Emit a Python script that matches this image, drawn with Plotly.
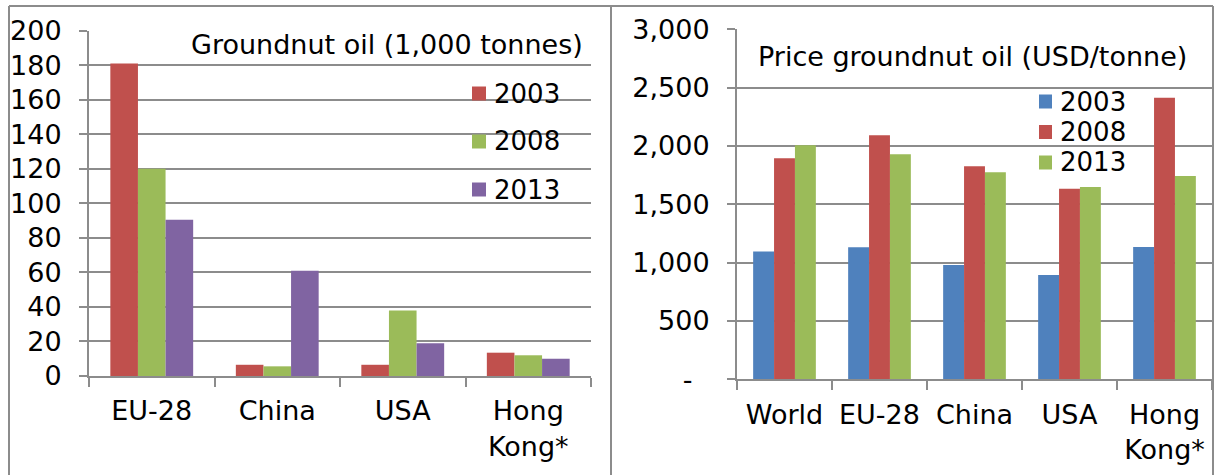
import plotly.graph_objects as go

W, H = 1214, 475

# ---- data ----
vol_categories = ["EU-28", "China", "USA", "Hong<br>Kong*"]
vol_2003 = [181, 6.5, 6.5, 13.5]
vol_2008 = [120, 5.6, 38, 12]
vol_2013 = [90.5, 61, 19, 10]
vol_years = ["2003", "2008", "2013"]

price_categories = ["World", "EU-28", "China", "USA", "Hong<br>Kong*"]
price_2003 = [1095, 1132, 980, 895, 1135]
price_2008 = [1895, 2092, 1826, 1634, 2414]
price_2013 = [2006, 1930, 1774, 1648, 1743]
price_years = ["2003", "2008", "2013"]

vol_ticks = [0, 20, 40, 60, 80, 100, 120, 140, 160, 180, 200]
price_ticks = [0, 500, 1000, 1500, 2000, 2500, 3000]
price_ticktext = ["-\u2007", "500", "1,000", "1,500", "2,000", "2,500", "3,000"]

vol_title = "Groundnut oil (1,000 tonnes)"
price_title = "Price groundnut oil (USD/tonne)"

BLUE, RED, GREEN, PURPLE = "#4F81BD", "#C0504D", "#9BBB59", "#8064A2"
vol_colors = [RED, GREEN, PURPLE]
price_colors = [BLUE, RED, GREEN]

FONT = "DejaVu Sans"
FS = 27
GRID = "#8c8c8c"


def X(px):
    return px / W


def Y(py):
    return 1 - py / H


fig = go.Figure()
for name, vals, col in zip(vol_years, [vol_2003, vol_2008, vol_2013], vol_colors):
    fig.add_trace(go.Bar(x=vol_categories, y=vals, name=name, marker_color=col,
                         marker_line_width=0, xaxis="x", yaxis="y", showlegend=False))
for name, vals, col in zip(price_years, [price_2003, price_2008, price_2013], price_colors):
    fig.add_trace(go.Bar(x=price_categories, y=vals, name=name, marker_color=col,
                         marker_line_width=0, xaxis="x2", yaxis="y2", showlegend=False))

common_x = dict(type="category", showgrid=False, showline=True, linecolor=GRID, linewidth=2,
                ticks="outside", ticklen=9, tickwidth=2, tickcolor=GRID, tickson="boundaries",
                tickfont=dict(family=FONT, size=FS, color="black"), ticklabelstandoff=10,
                fixedrange=True, automargin=False)
common_y = dict(showgrid=True, gridcolor=GRID, gridwidth=2, zeroline=False, showline=True,
                linecolor=GRID, linewidth=2, ticks="outside", ticklen=8, tickwidth=2,
                tickcolor=GRID, tickfont=dict(family=FONT, size=FS, color="black"),
                ticklabelstandoff=12, fixedrange=True, automargin=False)

fig.update_layout(
    width=W, height=H,
    margin=dict(l=0, r=0, t=0, b=0, pad=0, autoexpand=False),
    paper_bgcolor="white", plot_bgcolor="white",
    barmode="group", bargap=0.34, bargroupgap=0,
    xaxis=dict(domain=[X(89), X(591)], anchor="y", **common_x),
    yaxis=dict(domain=[Y(376), Y(30.7)], anchor="x", range=[0, 200], tickvals=vol_ticks, **common_y),
    xaxis2=dict(domain=[X(737), X(1212)], anchor="y2", **common_x),
    yaxis2=dict(domain=[Y(379.3), Y(29.3)], anchor="x2", range=[0, 3000], tickvals=price_ticks,
                ticktext=price_ticktext, **common_y),
    showlegend=False,
)

shapes = []
# panel borders
for x0, y0, x1, y1 in [(9, 6, 9, 475), (9, 6, 1213, 6), (611, 6, 611, 475), (1213, 6, 1213, 475)]:
    shapes.append(dict(type="line", xref="paper", yref="paper", x0=X(x0), y0=Y(y0), x1=X(x1), y1=Y(y1),
                       line=dict(color=GRID, width=2)))

annotations = [
    dict(text=vol_title, x=X(386.5), y=Y(45), xref="paper", yref="paper", showarrow=False,
         xanchor="center", yanchor="middle", font=dict(family=FONT, size=FS, color="black")),
    dict(text=price_title, x=X(972), y=Y(56), xref="paper", yref="paper", showarrow=False,
         xanchor="center", yanchor="middle", font=dict(family=FONT, size=FS, color="black")),
]

# manual legends
for i, (name, col) in enumerate(zip(vol_years, vol_colors)):
    cy = 93.5 + i * 48
    shapes.append(dict(type="rect", xref="paper", yref="paper", x0=X(472), x1=X(486),
                       y0=Y(cy + 7), y1=Y(cy - 7), fillcolor=col, line=dict(width=0)))
    annotations.append(dict(text=name, x=X(492), y=Y(cy), xref="paper", yref="paper", showarrow=False,
                            xanchor="left", yanchor="middle", font=dict(family=FONT, size=26, color="black")))
for i, (name, col) in enumerate(zip(price_years, price_colors)):
    cy = 101.5 + i * 30.5
    shapes.append(dict(type="rect", xref="paper", yref="paper", x0=X(1039), x1=X(1052),
                       y0=Y(cy + 7), y1=Y(cy - 7), fillcolor=col, line=dict(width=0)))
    annotations.append(dict(text=name, x=X(1058), y=Y(cy), xref="paper", yref="paper", showarrow=False,
                            xanchor="left", yanchor="middle", font=dict(family=FONT, size=26, color="black")))

fig.update_layout(shapes=shapes, annotations=annotations)
fig.write_html("out.html")
